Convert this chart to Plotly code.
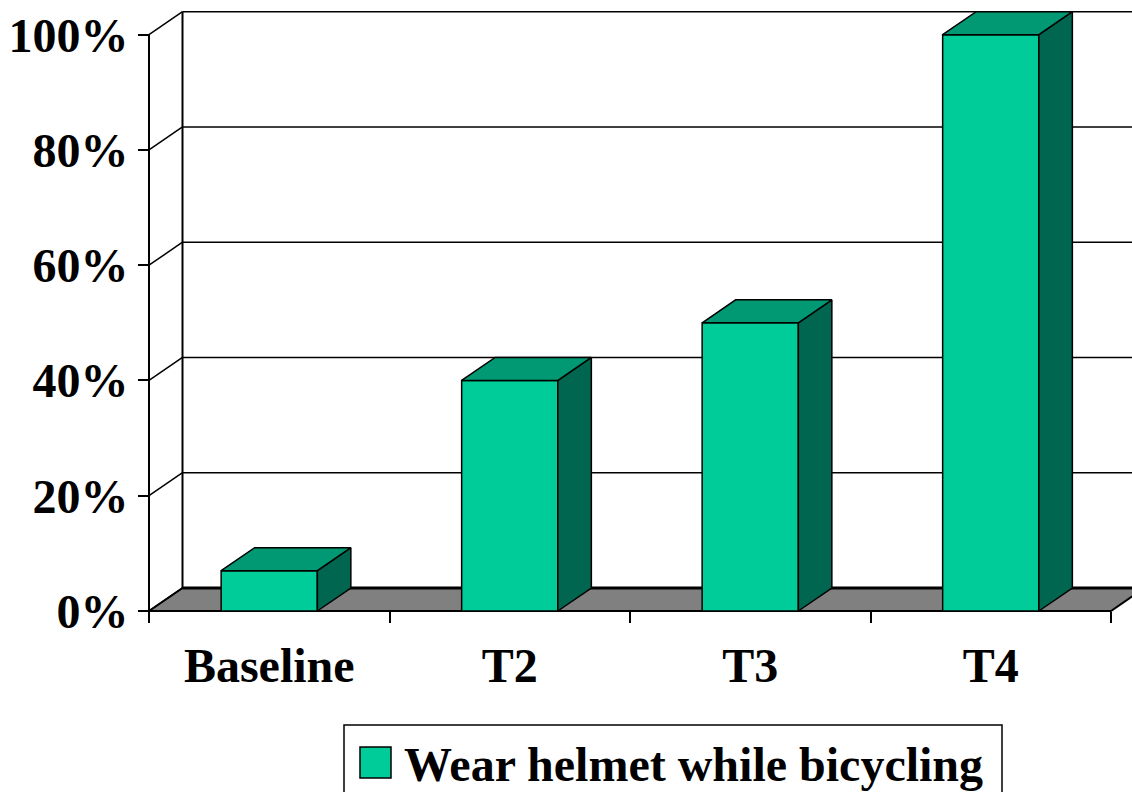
import plotly.graph_objects as go

# --- data -------------------------------------------------------------
categories = ["Baseline", "T2", "T3", "T4"]
helmet_pct = [7, 40, 50, 100]
series_name = "Wear helmet while bicycling"
y_tick_values = [0, 20, 40, 60, 80, 100]
y_tick_labels = ["0%", "20%", "40%", "60%", "80%", "100%"]

# --- styling / geometry ----------------------------------------------
FRONT = "#00CC99"
TOP = "#009973"
SIDE = "#006650"
FLOOR = "#808080"
FONT = "Liberation Serif"

FIG_W, FIG_H = 1132, 792
PX_PER_CAT = 240.5      # horizontal pixels per category
PX_PER_PCT = 5.763      # vertical pixels per percentage point
PAD = 4                 # pixels of room left/below the front axes

BAR_HALF = 0.2          # half width of a column (category units)
DEPTH_X = 33.5 / PX_PER_CAT   # receding depth, x part
DEPTH_Y = 23 / PX_PER_PCT     # receding depth, y part

M_L, M_B = 145, FIG_H - 615
plot_w = FIG_W - M_L
plot_h = FIG_H - M_B

x_lo = -0.5 - PAD / PX_PER_CAT
x_hi = x_lo + plot_w / PX_PER_CAT
y_lo = -PAD / PX_PER_PCT
y_hi = y_lo + plot_h / PX_PER_PCT

n = len(categories)
xs = list(range(n))
x_left = -0.5
x_right = n - 0.5


def px_to_paper(px, py):
    return (px - M_L) / plot_w, (FIG_H - M_B - py) / plot_h


fig = go.Figure()

# front faces of the columns
fig.add_trace(go.Bar(
    x=xs, y=helmet_pct, width=2 * BAR_HALF,
    marker=dict(color=FRONT, line=dict(color="black", width=1.5)),
    name=series_name, showlegend=False,
))

# side and top faces, built from the same values
side_x, side_y, top_x, top_y = [], [], [], []
for c, v in zip(xs, helmet_pct):
    r = c + BAR_HALF
    l = c - BAR_HALF
    side_x += [r, r + DEPTH_X, r + DEPTH_X, r, r, None]
    side_y += [0, DEPTH_Y, v + DEPTH_Y, v, 0, None]
    top_x += [l, r, r + DEPTH_X, l + DEPTH_X, l, None]
    top_y += [v, v, v + DEPTH_Y, v + DEPTH_Y, v, None]

for fx, fy, col in [(side_x, side_y, SIDE), (top_x, top_y, TOP)]:
    fig.add_trace(go.Scatter(
        x=fx, y=fy, mode="lines", fill="toself", fillcolor=col,
        line=dict(color="black", width=1.5), hoverinfo="skip",
        showlegend=False,
    ))

shapes = []
# floor
shapes.append(dict(
    type="path", layer="below", xref="x", yref="y",
    path=(f"M{x_left},0 L{x_right},0 L{x_right + DEPTH_X},{DEPTH_Y} "
          f"L{x_left + DEPTH_X},{DEPTH_Y} Z"),
    fillcolor=FLOOR, line=dict(color="black", width=2),
))
# back-wall gridlines and left-wall diagonals
for v in y_tick_values:
    shapes.append(dict(
        type="line", layer="below", xref="x", yref="y",
        x0=x_left + DEPTH_X, y0=v + DEPTH_Y, x1=x_hi + 1, y1=v + DEPTH_Y,
        line=dict(color="black", width=3 if v == 0 else 1.5),
    ))
    shapes.append(dict(
        type="line", layer="below", xref="x", yref="y",
        x0=x_left, y0=v, x1=x_left + DEPTH_X, y1=v + DEPTH_Y,
        line=dict(color="black", width=1.5),
    ))
# wall edges
shapes.append(dict(
    type="line", layer="below", xref="x", yref="y",
    x0=x_left + DEPTH_X, y0=DEPTH_Y, x1=x_left + DEPTH_X, y1=100 + DEPTH_Y,
    line=dict(color="black", width=2),
))
shapes.append(dict(
    type="line", layer="below", xref="x", yref="y",
    x0=x_left, y0=0, x1=x_left, y1=100,
    line=dict(color="black", width=2),
))

# legend box
bx0, by0 = px_to_paper(344, 725)
bx1, by1 = px_to_paper(1002, 810)
shapes.append(dict(type="rect", xref="paper", yref="paper",
                   x0=bx0, y0=by1, x1=bx1, y1=by0,
                   line=dict(color="black", width=1.5), fillcolor="white"))
sx0, sy0 = px_to_paper(360, 747)
sx1, sy1 = px_to_paper(391, 778)
shapes.append(dict(type="rect", xref="paper", yref="paper",
                   x0=sx0, y0=sy1, x1=sx1, y1=sy0,
                   line=dict(color="black", width=1.5), fillcolor=FRONT))
tx, ty = px_to_paper(402, 764)

fig.update_layout(
    width=FIG_W, height=FIG_H,
    margin=dict(l=M_L, r=0, t=0, b=M_B),
    paper_bgcolor="white", plot_bgcolor="white",
    showlegend=False,
    shapes=shapes,
    annotations=[dict(
        text=series_name, xref="paper", yref="paper", x=tx, y=ty,
        xanchor="left", yanchor="middle", showarrow=False,
        font=dict(family=FONT, size=48, color="black", weight="bold"),
    )],
    xaxis=dict(
        range=[x_lo, x_hi], anchor="free",
        position=(0 - y_lo) / (y_hi - y_lo),
        tickmode="array", tickvals=xs, ticktext=categories,
        ticks="", showgrid=False, zeroline=False, showline=False,
        ticklabelstandoff=22,
        tickfont=dict(family=FONT, size=48, color="black", weight="bold"),
        minor=dict(tick0=-0.5, dtick=1, ticks="outside", ticklen=11,
                   tickwidth=2, tickcolor="black", showgrid=False),
    ),
    yaxis=dict(
        range=[y_lo, y_hi], anchor="free",
        position=(x_left - x_lo) / (x_hi - x_lo),
        tickmode="array", tickvals=y_tick_values, ticktext=y_tick_labels,
        ticks="outside", ticklen=11, tickwidth=2, tickcolor="black",
        showgrid=False, zeroline=False, showline=False,
        ticklabelstandoff=0,
        tickfont=dict(family=FONT, size=48, color="black", weight="bold"),
    ),
)

fig.write_html("out.html")
